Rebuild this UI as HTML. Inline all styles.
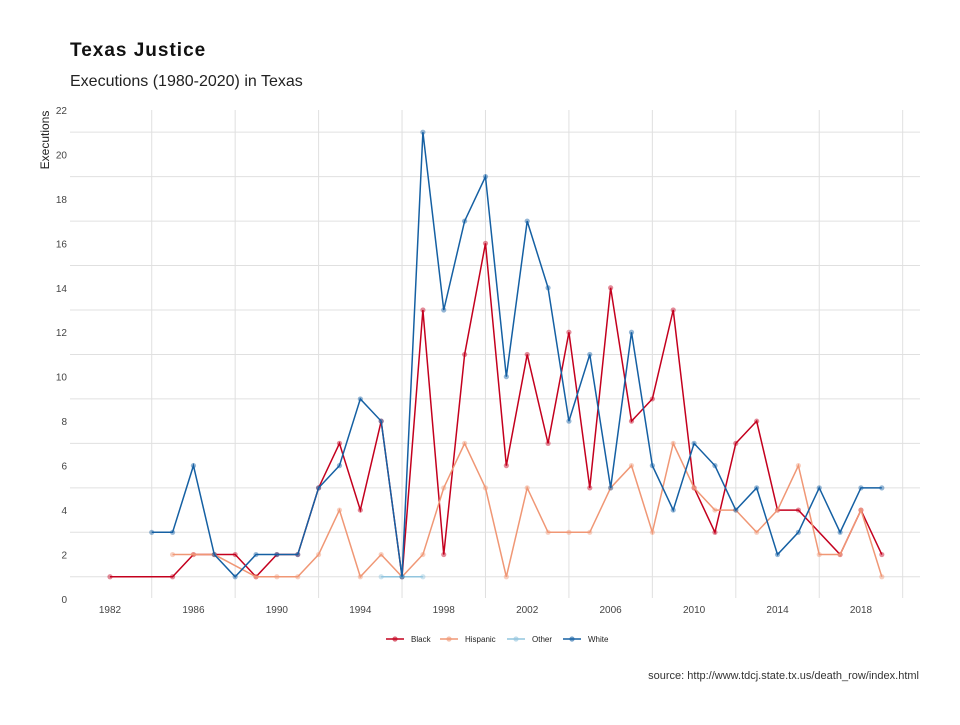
<!DOCTYPE html>
<html><head><meta charset="utf-8"><style>
body{margin:0;background:#fff;font-family:"Liberation Sans","DejaVu Sans",sans-serif;}
svg text{font-family:"Liberation Sans","DejaVu Sans",sans-serif;}
</style></head><body>
<svg id="chart" width="960" height="720" xmlns="http://www.w3.org/2000/svg">
<text x="70" y="56" font-size="19" font-weight="bold" fill="#111" letter-spacing="1">Texas Justice</text>
<text x="70" y="86" font-size="16" fill="#222">Executions (1980-2020) in Texas</text>
<text transform="translate(49,140) rotate(-90)" text-anchor="middle" font-size="12" fill="#222">Executions</text>
<text x="919" y="679" text-anchor="end" font-size="11" fill="#333">source: http://www.tdcj.state.tx.us/death_row/index.html</text>
<g id="grid"></g>
<g id="axes"></g>
<g id="series"></g>
<g id="legend"></g>
</svg>
<script>
const blackYears=[1982,1985,1986,1987,1988,1989,1990,1991,1992,1993,1994,1995,1996,1997,1998,1999,2000,2001,2002,2003,2004,2005,2006,2007,2008,2009,2010,2011,2012,2013,2014,2015,2017,2018,2019];
const blackValues=[1,1,2,2,2,1,2,2,5,7,4,8,1,13,2,11,16,6,11,7,12,5,14,8,9,13,5,3,7,8,4,4,2,4,2];
const hispanicYears=[1985,1986,1987,1989,1990,1991,1992,1993,1994,1995,1996,1997,1998,1999,2000,2001,2002,2003,2004,2005,2006,2007,2008,2009,2010,2011,2012,2013,2014,2015,2016,2017,2018,2019];
const hispanicValues=[2,2,2,1,1,1,2,4,1,2,1,2,5,7,5,1,5,3,3,3,5,6,3,7,5,4,4,3,4,6,2,2,4,1];
const otherYears=[1995,1996,1997];
const otherValues=[1,1,1];
const whiteYears=[1984,1985,1986,1987,1988,1989,1990,1991,1992,1993,1994,1995,1996,1997,1998,1999,2000,2001,2002,2003,2004,2005,2006,2007,2008,2009,2010,2011,2012,2013,2014,2015,2016,2017,2018,2019];
const whiteValues=[3,3,6,2,1,2,2,2,5,6,9,8,1,21,13,17,19,10,17,14,8,11,5,12,6,4,7,6,4,5,2,3,5,3,5,5];
const xTickLabels=[1982,1986,1990,1994,1998,2002,2006,2010,2014,2018];
const yTickLabels=[0,2,4,6,8,10,12,14,16,18,20,22];

const NS="http://www.w3.org/2000/svg";
const x=v=>110+(v-1982)*20.86;
const y=v=>599-v*22.23;
function mk(tag,attrs,parent){const e=document.createElementNS(NS,tag);for(const k in attrs)e.setAttribute(k,attrs[k]);parent.appendChild(e);return e;}
const grid=document.getElementById('grid'),axes=document.getElementById('axes'),series=document.getElementById('series'),legend=document.getElementById('legend');
for(let v=1;v<=21;v+=2){const l=mk('line',{x1:70,x2:920,y1:y(v),y2:y(v),stroke:'#e0e0e0','stroke-width':1},grid);

}
for(let yr=1984;yr<=2020;yr+=4){const l=mk('line',{x1:x(yr),x2:x(yr),y1:110,y2:598,stroke:'#e0e0e0','stroke-width':1},grid);

}
yTickLabels.forEach(v=>{const t=mk('text',{x:67,y:y(v)+4,'text-anchor':'end','font-size':10,fill:'#444'},axes);t.textContent=v;

});
xTickLabels.forEach(v=>{const t=mk('text',{x:x(v),y:613,'text-anchor':'middle','font-size':10,fill:'#444'},axes);t.textContent=v;

});
const defs=[['black',blackYears,blackValues,'#C4001E'],['hispanic',hispanicYears,hispanicValues,'#F09775'],['other',otherYears,otherValues,'#92C5DE'],['white',whiteYears,whiteValues,'#1560A3']];
defs.forEach(([name,ys,vs,c])=>{const g=mk('g',{},series);


const p=mk('polyline',{points:ys.map((yr,i)=>x(yr)+','+y(vs[i])).join(' '),fill:'none',stroke:c,'stroke-width':1.5},g);


ys.forEach((yr,i)=>{const d=mk('circle',{cx:x(yr),cy:y(vs[i]),r:2.6,fill:c,'fill-opacity':0.45},g);

});});
const lg=[['Black','#C4001E',386],['Hispanic','#F09775',440],['Other','#92C5DE',507],['White','#1560A3',563]];
lg.forEach(([n,c,lx])=>{const g=mk('g',{},legend);


mk('line',{x1:lx,x2:lx+18,y1:639,y2:639,stroke:c,'stroke-width':1.6},g);
mk('circle',{cx:lx+9,cy:639,r:2.6,fill:c,'fill-opacity':0.6},g);
const t=mk('text',{x:lx+25,y:642,'font-size':8,fill:'#222'},g);t.textContent=n;});
</script>
</body></html>
